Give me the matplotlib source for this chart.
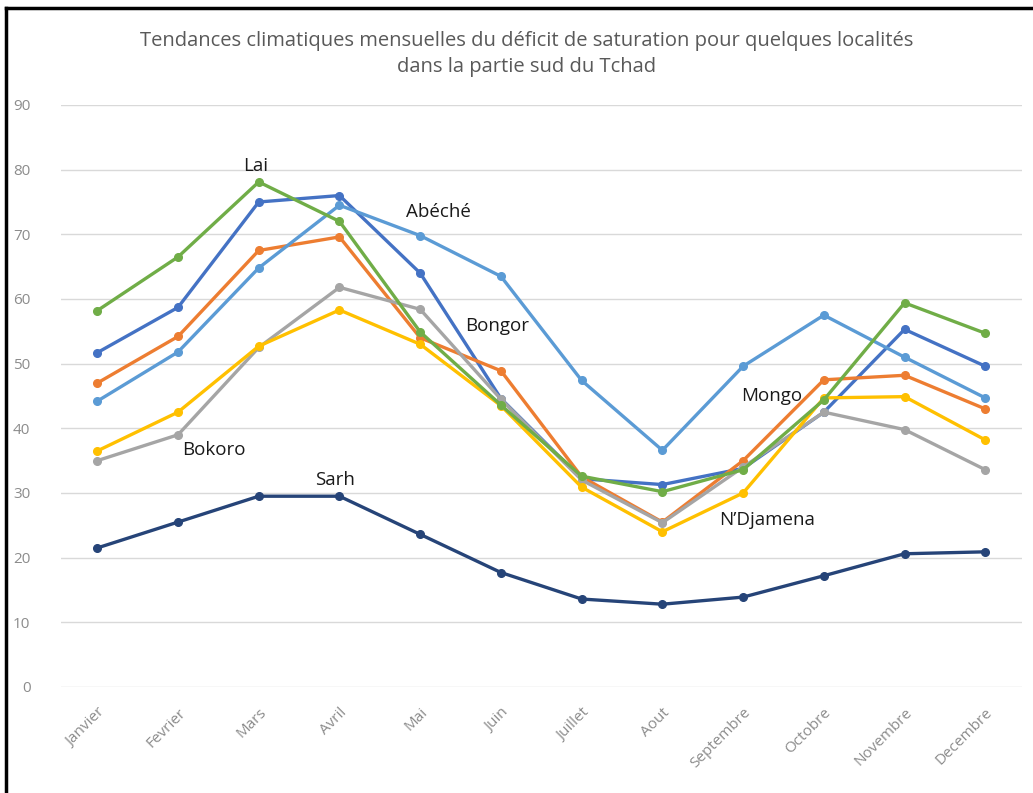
import numpy as np
import matplotlib
matplotlib.use("Agg")
from matplotlib import pyplot as plt
from matplotlib.lines import Line2D

mois = ["Janvier", "Fevrier", "Mars", "Avril", "Mai", "Juin", "Juillet",
        "Aout", "Septembre", "Octobre", "Novembre", "Decembre"]

# valeurs
bongor = [51.7, 58.7, 75.0, 76.0, 64.0, 44.6, 32.2, 31.3, 33.8, 42.5, 55.3, 49.6]
mongo = [47.0, 54.2, 67.5, 69.6, 54.0, 48.9, 32.5, 25.5, 35.0, 47.5, 48.2, 43.0]
bokoro = [35.0, 39.0, 52.5, 61.8, 58.4, 44.5, 32.0, 25.4, 34.0, 42.5, 39.8, 33.6]
ndjamena = [36.5, 42.5, 52.7, 58.3, 53.0, 43.5, 30.9, 24.0, 30.0, 44.7, 44.9, 38.2]
abeche = [44.2, 51.8, 64.8, 74.5, 69.8, 63.5, 47.4, 36.6, 49.6, 57.5, 51.0, 44.7]
lai = [58.2, 66.5, 78.1, 72.0, 54.9, 43.6, 32.6, 30.2, 33.6, 44.4, 59.4, 54.7]
sarh = [21.5, 25.5, 29.5, 29.5, 23.6, 17.7, 13.6, 12.8, 13.9, 17.2, 20.6, 20.9]

series = [bongor, mongo, bokoro, ndjamena, abeche, lai, sarh]
couleurs = ["#4472C4", "#ED7D31", "#A5A5A5", "#FFC000", "#5B9BD5", "#70AD47", "#264478"]

noms = ["Lai", "Abéché", "Bongor", "Mongo", "N\u2019Djamena", "Bokoro", "Sarh"]
nom_x = [1.96, 4.22, 4.95, 8.35, 8.3, 1.44, 2.95]
nom_y = [80.6, 73.4, 55.8, 45.0, 25.8, 36.6, 32.0]

plt.rcParams['font.family'] = ['Open Sans', 'DejaVu Sans']

fig = plt.figure(figsize=(10.33, 7.93), dpi=100)
ax = fig.add_axes([0.059, 0.1337, 0.93, 0.7339])

x = np.arange(len(mois))
for s, c in zip(series, couleurs):
    ax.plot(x, s, color=c, linewidth=2.4, marker='o', markersize=5.5, zorder=3)

for n, nx, ny in zip(noms, nom_x, nom_y):
    ax.text(nx, ny, n, ha='center', va='center', fontsize=13.5, color='#1a1a1a', zorder=4)

ax.set_xlim(-0.45, 11.45)
ax.set_ylim(0, 90)
ax.set_yticks(np.arange(0, 91, 10))
ax.set_xticks(x)
ax.set_xticklabels(mois, rotation=45, ha='right', rotation_mode='anchor',
                   fontsize=11, color='#8c8c8c')
ax.tick_params(axis='y', labelsize=11, colors='#8c8c8c', length=0, pad=22)
ax.tick_params(axis='x', length=0, pad=13)
ax.grid(axis='y', color='#d9d9d9', linewidth=1)
ax.set_axisbelow(True)
for sp in ax.spines.values():
    sp.set_visible(False)

fig.text(0.51, 0.948, "Tendances climatiques mensuelles du déficit de saturation pour quelques localités",
         ha='center', va='center', fontsize=14.5, color='#595959')
fig.text(0.51, 0.915, "dans la partie sud du Tchad",
         ha='center', va='center', fontsize=14.5, color='#595959')

# cadre noir en haut et a gauche
fig.add_artist(Line2D([0.006, 0.006], [0, 0.99], color='black', linewidth=2.5, transform=fig.transFigure))
fig.add_artist(Line2D([0.006, 1.0], [0.99, 0.99], color='black', linewidth=2.5, transform=fig.transFigure))

fig.savefig("out.png", dpi=100)
